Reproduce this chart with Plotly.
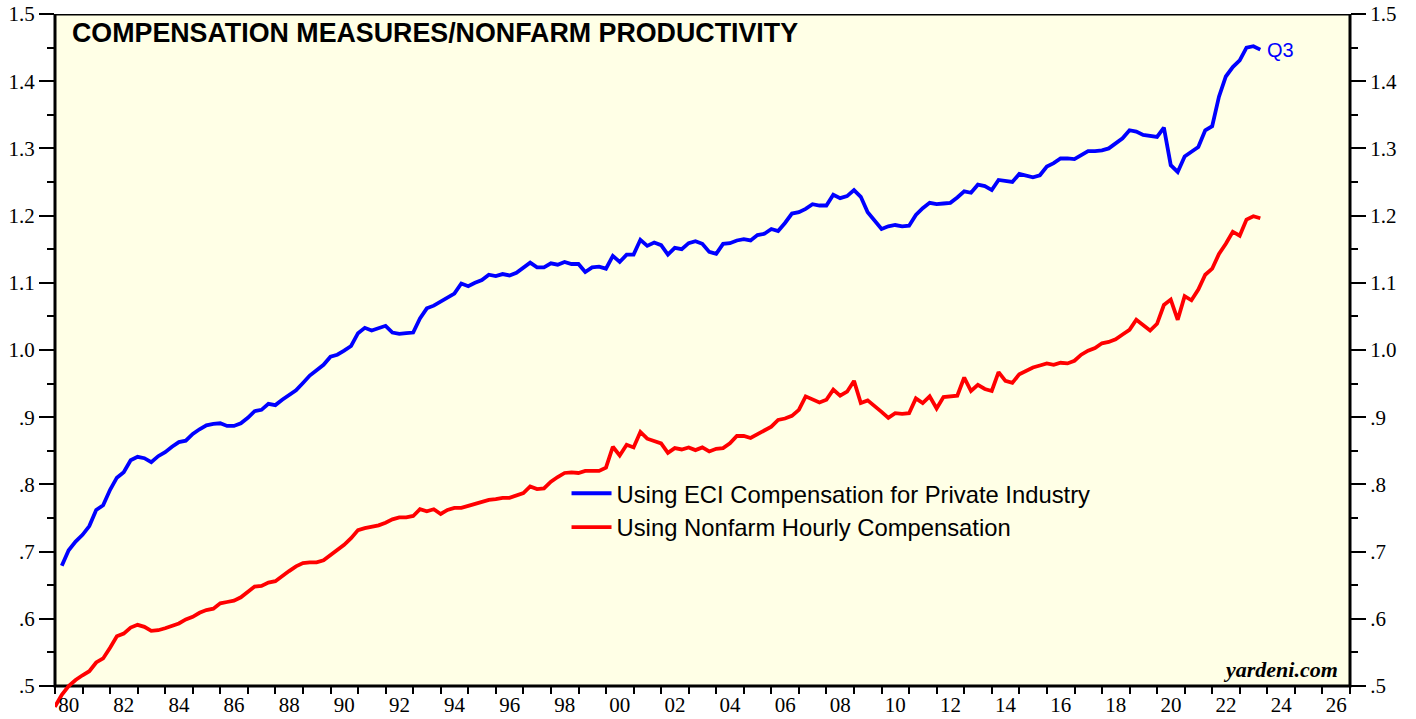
import plotly.graph_objects as go
import pandas as pd

# ---------------- data (quarterly) ----------------
eci_start = "1980Q1"
eci_values = [
    0.679, 0.702, 0.715, 0.725,
    0.738, 0.762, 0.769, 0.792,
    0.810, 0.818, 0.836, 0.841,
    0.839, 0.833, 0.842, 0.848,
    0.856, 0.863, 0.865, 0.875,
    0.882, 0.888, 0.890, 0.891,
    0.887, 0.887, 0.891, 0.899,
    0.909, 0.911, 0.920, 0.918,
    0.926, 0.933, 0.940, 0.951,
    0.962, 0.970, 0.978, 0.990,
    0.993, 0.999, 1.006, 1.025,
    1.033, 1.029, 1.032, 1.036,
    1.026, 1.024, 1.025, 1.026,
    1.047, 1.062, 1.066, 1.072,
    1.077, 1.084, 1.099, 1.095,
    1.100, 1.104, 1.112, 1.110,
    1.113, 1.111, 1.115, 1.122,
    1.130, 1.123, 1.123, 1.129,
    1.127, 1.131, 1.128, 1.128,
    1.116, 1.123, 1.124, 1.121,
    1.140, 1.131, 1.142, 1.142,
    1.164, 1.155, 1.160, 1.156,
    1.142, 1.152, 1.150, 1.159,
    1.162, 1.158, 1.146, 1.143,
    1.158, 1.159, 1.163, 1.165,
    1.163, 1.171, 1.173, 1.180,
    1.177, 1.189, 1.203, 1.205,
    1.210, 1.217, 1.215, 1.215,
    1.231, 1.226, 1.229, 1.238,
    1.228, 1.205, 1.192, 1.180,
    1.184, 1.186, 1.184, 1.185,
    1.201, 1.211, 1.219, 1.217,
    1.218, 1.219, 1.227, 1.236,
    1.234, 1.246, 1.244, 1.238,
    1.253, 1.252, 1.250, 1.262,
    1.260, 1.257, 1.260, 1.273,
    1.278, 1.285, 1.285, 1.284,
    1.290, 1.296, 1.296, 1.297,
    1.300, 1.307, 1.315, 1.327,
    1.325, 1.320, 1.318, 1.317,
    1.331, 1.275, 1.265, 1.288,
    1.295, 1.302, 1.327, 1.333,
    1.377, 1.407, 1.421, 1.431,
    1.450, 1.452, 1.447,
]

nfh_start = "1979Q4"
nfh_values = [
    0.469,
    0.487, 0.500, 0.509, 0.516,
    0.522, 0.535, 0.541, 0.557,
    0.574, 0.578, 0.587, 0.591,
    0.588, 0.582, 0.583, 0.586,
    0.589, 0.593, 0.599, 0.603,
    0.609, 0.613, 0.615, 0.623,
    0.625, 0.627, 0.632, 0.641,
    0.648, 0.649, 0.654, 0.656,
    0.664, 0.671, 0.678, 0.683,
    0.684, 0.684, 0.687, 0.695,
    0.702, 0.710, 0.720, 0.732,
    0.735, 0.737, 0.739, 0.743,
    0.748, 0.751, 0.751, 0.753,
    0.763, 0.760, 0.763, 0.756,
    0.762, 0.765, 0.765, 0.768,
    0.771, 0.774, 0.777, 0.778,
    0.780, 0.780, 0.783, 0.787,
    0.797, 0.793, 0.794, 0.804,
    0.811, 0.817, 0.818, 0.817,
    0.820, 0.820, 0.820, 0.825,
    0.856, 0.843, 0.859, 0.855,
    0.878, 0.868, 0.865, 0.861,
    0.847, 0.854, 0.852, 0.855,
    0.851, 0.855, 0.849, 0.853,
    0.854, 0.861, 0.872, 0.872,
    0.869, 0.875, 0.881, 0.886,
    0.896, 0.898, 0.902, 0.911,
    0.931, 0.927, 0.922, 0.926,
    0.941, 0.932, 0.938, 0.954,
    0.921, 0.925, 0.917, 0.908,
    0.899, 0.906, 0.905, 0.906,
    0.928, 0.921, 0.931, 0.913,
    0.930, 0.931, 0.932, 0.959,
    0.939, 0.948, 0.942, 0.939,
    0.967, 0.954, 0.951, 0.964,
    0.969, 0.974, 0.977, 0.980,
    0.978, 0.981, 0.980, 0.984,
    0.993, 0.999, 1.003, 1.010,
    1.012, 1.016, 1.023, 1.030,
    1.045, 1.037, 1.029, 1.039,
    1.067, 1.075, 1.045, 1.080,
    1.074, 1.090, 1.112, 1.121,
    1.143, 1.158, 1.176, 1.170,
    1.194, 1.199, 1.196,
]

series_names = ["Using ECI Compensation for Private Industry",
                "Using Nonfarm Hourly Compensation"]
series_colors = ["#0000FF", "#FF0000"]

y_tick_vals = [0.5, 0.6, 0.7, 0.8, 0.9, 1.0, 1.1, 1.2, 1.3, 1.4, 1.5]
y_tick_text = [".5", ".6", ".7", ".8", ".9", "1.0", "1.1", "1.2", "1.3", "1.4", "1.5"]
x_label_years = list(range(1980, 2027, 2))
x_label_text = [f"{y % 100:02d}" for y in x_label_years]

title_text = "COMPENSATION MEASURES/NONFARM PRODUCTIVITY"
last_label = "Q3"
source_text = "yardeni.com"


def quarter_dates(start, n):
    return pd.period_range(start, periods=n, freq="Q").to_timestamp(how="end").normalize()


eci_x = quarter_dates(eci_start, len(eci_values))
nfh_x = quarter_dates(nfh_start, len(nfh_values))

# ---------------- layout geometry ----------------
W, H = 1416, 719
M_L, M_R, M_T, M_B = 55, 66, 14, 9
plot_h = H - M_T - M_B
Y_TOP = 1.5
Y_BOT_AXIS = 0.5
y_min = Y_TOP - plot_h / 672.0           # plot extends slightly below the .5 axis
x_axis_pos = (Y_BOT_AXIS - y_min) / (Y_TOP - y_min)

BG = "#FFFFE6"
SERIF = "Liberation Serif, Times New Roman, serif"
SANS = "Liberation Sans, Arial, sans-serif"

fig = go.Figure()
fig.add_trace(go.Scatter(x=eci_x, y=eci_values, mode="lines", name=series_names[0],
                         line=dict(color=series_colors[0], width=3.8)))
fig.add_trace(go.Scatter(x=nfh_x, y=nfh_values, mode="lines", name=series_names[1],
                         line=dict(color=series_colors[1], width=3.8)))
fig.add_trace(go.Scatter(x=[], y=[], yaxis="y2", showlegend=False, hoverinfo="skip"))

yaxis_common = dict(
    range=[y_min, Y_TOP], tickmode="array", tickvals=y_tick_vals, ticktext=y_tick_text,
    ticks="outside", ticklen=15, tickwidth=2, tickcolor="black",
    minor=dict(ticks="outside", ticklen=7, tickwidth=2, tickcolor="black",
               tickmode="linear", tick0=0.5, dtick=0.05),
    showgrid=False, zeroline=False, showline=False, automargin=False,
    tickfont=dict(family=SERIF, size=21, color="black"),
    fixedrange=True,
)

fig.update_layout(
    width=W, height=H,
    margin=dict(l=M_L, r=M_R, t=M_T, b=M_B, autoexpand=False),
    paper_bgcolor="white", plot_bgcolor="white",
    showlegend=True,
    legend=dict(x=0.395, y=0.343, xanchor="left", yanchor="top",
                bgcolor="rgba(0,0,0,0)", borderwidth=0,
                font=dict(family=SANS, size=23.8, color="black"),
                itemwidth=40, tracegroupgap=0),
    xaxis=dict(
        type="date", range=["1980-01-01", "2027-01-01"],
        anchor="free", position=x_axis_pos,
        tickmode="array",
        tickvals=[f"{y}-07-02" for y in x_label_years], ticktext=x_label_text,
        ticks="outside", ticklen=0, tickwidth=0,
        minor=dict(ticks="outside", ticklen=7, tickwidth=2, tickcolor="black",
                   tickmode="linear", tick0="1980-01-01", dtick="M12"),
        showgrid=False, zeroline=False, showline=False, automargin=False,
        tickfont=dict(family=SERIF, size=21, color="black"),
        fixedrange=True,
    ),
    yaxis=dict(**yaxis_common, side="left"),
    yaxis2=dict(**yaxis_common, side="right", overlaying="y", anchor="x"),
    shapes=[dict(type="rect", xref="paper", yref="y", x0=0, x1=1,
                 y0=Y_BOT_AXIS, y1=Y_TOP, fillcolor=BG,
                 line=dict(color="black", width=3), layer="below")],
    annotations=[
        dict(text=f"<b>{title_text}</b>", xref="paper", yref="y",
             x=0.0116, y=1.472, xanchor="left", yanchor="middle", showarrow=False,
             font=dict(family=SANS, size=26.8, color="black")),
        dict(text=last_label, xref="x", yref="y", x=eci_x[-1], y=eci_values[-1],
             xanchor="left", yanchor="middle", xshift=5, showarrow=False,
             font=dict(family=SANS, size=20, color=series_colors[0])),
        dict(text=f"<b><i>{source_text}</i></b>", xref="paper", yref="y",
             x=0.9925, y=0.525, xanchor="right", yanchor="middle", showarrow=False,
             font=dict(family=SERIF, size=22, color="black")),
    ],
)

fig.write_html(
    "out.html",
    config={"displayModeBar": False, "staticPlot": True},
    post_script="document.body.style.margin='0';document.body.style.overflow='hidden';",
)
